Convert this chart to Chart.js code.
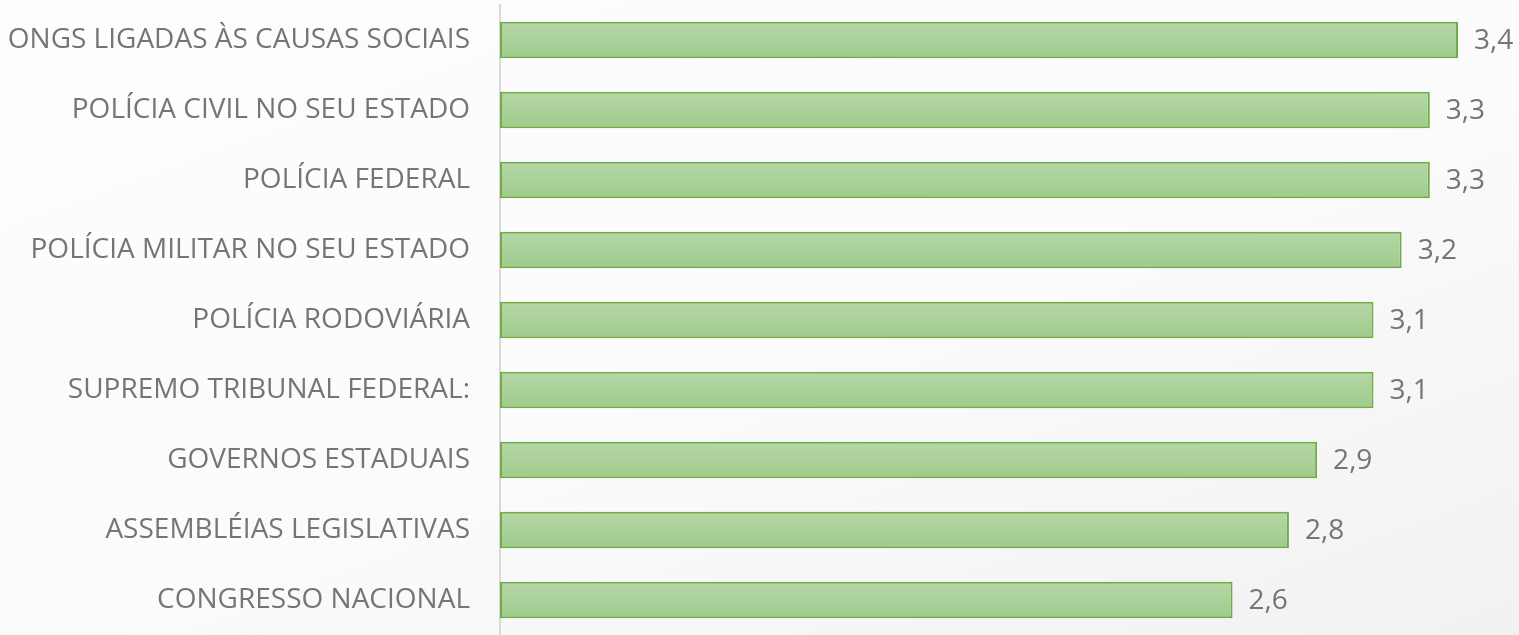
<!DOCTYPE html>
<html>
<head>
<meta charset="utf-8">
<script src="https://cdn.jsdelivr.net/npm/chart.js@4.4.0/dist/chart.umd.min.js"></script>
<style>
html,body{margin:0;padding:0;width:1519px;height:635px;overflow:hidden;
background:linear-gradient(160deg,#fdfdfe 0%,#fbfbfc 55%,#f1f1f2 100%);}
canvas{display:block;}
</style>
</head>
<body>
<canvas id="c" width="1519" height="635"></canvas>
<script>
const categories = [
  "ONGS LIGADAS ÀS CAUSAS SOCIAIS",
  "POLÍCIA CIVIL NO SEU ESTADO",
  "POLÍCIA FEDERAL",
  "POLÍCIA MILITAR NO SEU ESTADO",
  "POLÍCIA RODOVIÁRIA",
  "SUPREMO TRIBUNAL FEDERAL:",
  "GOVERNOS ESTADUAIS",
  "ASSEMBLÉIAS LEGISLATIVAS",
  "CONGRESSO NACIONAL"
];
const values = [3.4, 3.3, 3.3, 3.2, 3.1, 3.1, 2.9, 2.8, 2.6];
const valueLabels = ["3,4","3,3","3,3","3,2","3,1","3,1","2,9","2,8","2,6"];

const FONT = "'Open Sans', sans-serif";
const TEXT = "#757575";

const valueLabelPlugin = {
  id: 'valueLabels',
  afterDatasetsDraw(chart) {
    const ctx = chart.ctx;
    const meta = chart.getDatasetMeta(0);
    ctx.save();
    ctx.font = "28px " + FONT;
    ctx.fillStyle = TEXT;
    ctx.textAlign = "left";
    ctx.textBaseline = "middle";
    meta.data.forEach((bar, i) => {
      ctx.fillText(valueLabels[i], bar.x + 16, bar.y + 1);
    });
    ctx.restore();
  }
};

new Chart(document.getElementById('c'), {
  type: 'bar',
  data: {
    labels: categories,
    datasets: [{
      data: values,
      backgroundColor(context) {
        const chart = context.chart;
        const ys = chart.scales && chart.scales.y;
        if (!chart.chartArea || !ys || context.dataIndex === undefined) return '#a9d18e';
        const cy = ys.getPixelForValue(context.dataIndex);
        if (!Number.isFinite(cy)) return '#a9d18e';
        const h = 18;
        const g = chart.ctx.createLinearGradient(0, cy - h, 0, cy + h);
        g.addColorStop(0, '#b6d7a8');
        g.addColorStop(1, '#9fcb8b');
        return g;
      },
      borderColor: '#70ad47',
      borderWidth: 2,
      borderSkipped: false,
      barPercentage: 0.52,
      categoryPercentage: 1.0
    }]
  },
  options: {
    indexAxis: 'y',
    responsive: false,
    animation: false,
    devicePixelRatio: 1,
    layout: { padding: { top: 5, right: 61, bottom: 0, left: 0 } },
    plugins: { legend: { display: false }, tooltip: { enabled: false } },
    scales: {
      x: { display: false, min: 0, max: 3.4 },
      y: {
        afterFit(scale) { scale.width = 500; scale.paddingTop = 0; scale.paddingBottom = 0; },
        grid: { display: false, drawTicks: false },
        border: { display: true, color: '#d9d9d9', width: 2 },
        ticks: { color: TEXT, font: { family: FONT, size: 28 }, padding: 30 }
      }
    }
  },
  plugins: [valueLabelPlugin]
});
</script>
</body>
</html>
